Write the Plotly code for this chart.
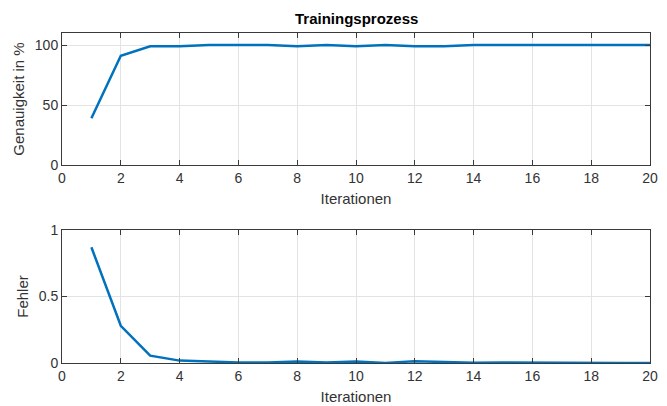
import plotly.graph_objects as go

iterations = list(range(1, 21))
accuracy = [39, 91, 99, 99, 100, 100, 100, 99, 100, 99, 100, 99, 99, 100, 100, 100, 100, 100, 100, 100]
error = [0.87, 0.28, 0.055, 0.018, 0.012, 0.003, 0.004, 0.012, 0.003, 0.012,
         0.0, 0.014, 0.007, 0.001, 0.003, 0.001, 0.0, 0.0, 0.0, 0.0]
x_ticks = list(range(0, 21, 2))
acc_ticks = [0, 50, 100]
err_ticks = [0, 0.5, 1]
err_tick_labels = ["0", "0.5", "1"]

W, H = 667, 406
line_color = "#0072BD"
axis_color = "#3a3a3a"
text_color = "#333333"
grid_color = "#e3e3e3"
font = "Liberation Sans, Helvetica, Arial, sans-serif"

fig = go.Figure()
fig.add_trace(go.Scatter(x=iterations, y=accuracy, mode="lines",
                         line=dict(color=line_color, width=2.5), xaxis="x", yaxis="y"))
fig.add_trace(go.Scatter(x=iterations, y=error, mode="lines",
                         line=dict(color=line_color, width=2.5), xaxis="x2", yaxis="y2"))

def xax(anchor, domain):
    return dict(domain=domain, anchor=anchor, range=[0, 20], tickvals=x_ticks,
                showline=True, linecolor=axis_color, linewidth=1, mirror="allticks",
                ticks="inside", ticklen=5, tickcolor=axis_color, automargin=False,
                showgrid=True, gridcolor=grid_color, gridwidth=1, zeroline=False,
                tickfont=dict(family=font, size=14, color=text_color),
                title=dict(text="Iterationen", font=dict(family=font, size=15, color=text_color), standoff=8))

def yax(anchor, domain, rng, tv, tt, title):
    return dict(domain=domain, anchor=anchor, range=rng, tickvals=tv, ticktext=tt,
                showline=True, linecolor=axis_color, linewidth=1, mirror="allticks",
                ticks="inside", ticklen=5, tickcolor=axis_color, automargin=False,
                showgrid=True, gridcolor=grid_color, gridwidth=1, zeroline=False,
                tickfont=dict(family=font, size=14, color=text_color),
                title=dict(text=title, font=dict(family=font, size=15, color=text_color), standoff=6))

xdom = [62 / W, 650 / W]
top_dom = [1 - 165 / H, 1 - 33 / H]
bot_dom = [1 - 363 / H, 1 - 230 / H]

fig.update_layout(
    width=W, height=H,
    margin=dict(l=0, r=0, t=0, b=0, autoexpand=False),
    paper_bgcolor="white", plot_bgcolor="white",
    showlegend=False,
    xaxis=xax("y", xdom),
    yaxis=yax("x", top_dom, [0, 110], acc_ticks, [str(v) for v in acc_ticks], "Genauigkeit in %"),
    xaxis2=xax("y2", xdom),
    yaxis2=yax("x2", bot_dom, [0, 1], err_ticks, err_tick_labels, "Fehler"),
    annotations=[dict(text="<b>Trainingsprozess</b>", x=(xdom[0] + xdom[1]) / 2, y=1 - 18 / H,
                      xref="paper", yref="paper", showarrow=False,
                      font=dict(family=font, size=15, color="black"), xanchor="center", yanchor="middle")],
)

fig.write_html("out.html", config={"displayModeBar": False},
               post_script="document.body.style.margin='0';document.body.style.overflow='hidden';")
